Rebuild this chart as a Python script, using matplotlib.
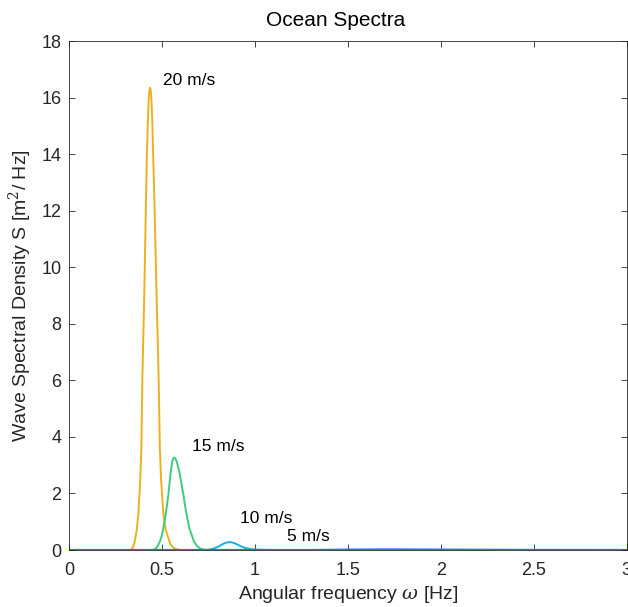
import matplotlib
matplotlib.use("Agg")
import matplotlib.pyplot as plt

plt.rcParams['font.family'] = ['Liberation Sans', 'DejaVu Sans']
plt.rcParams['mathtext.fontset'] = 'dejavuserif'

# 20 m/s
w20 = [0, 0.330, 0.336, 0.340, 0.352, 0.364, 0.373, 0.383, 0.389, 0.394, 0.405, 0.414, 0.418,
       0.423, 0.428, 0.432, 0.435, 0.438, 0.442, 0.447, 0.453, 0.459, 0.470, 0.482, 0.488, 0.495,
       0.507, 0.520, 0.543, 0.555, 0.566, 0.580, 0.600, 3.0]
s20 = [0, 0, 0.02, 0.06, 0.25, 0.71, 1.30, 2.48, 3.66, 6.0, 9.2, 12.4, 13.8,
       15.0, 15.9, 16.25, 16.35, 16.3, 16.05, 15.3, 13.8, 12.4, 9.2, 6.0, 3.66, 2.48,
       1.30, 0.71, 0.24, 0.12, 0.06, 0.02, 0, 0]

# 15 m/s
w15 = [0, 0.440, 0.455, 0.462, 0.475, 0.489, 0.498, 0.507, 0.522, 0.534, 0.547, 0.555,
       0.561, 0.566, 0.572, 0.579, 0.593, 0.615, 0.629, 0.647, 0.672, 0.688, 0.704, 0.720,
       0.740, 3.0]
s15 = [0, 0, 0.01, 0.03, 0.12, 0.30, 0.50, 0.77, 1.36, 1.95, 2.78, 3.13,
       3.24, 3.27, 3.23, 3.13, 2.78, 1.95, 1.36, 0.77, 0.30, 0.14, 0.06, 0.02,
       0, 0]

# 10 m/s
w10 = [0, 0.720, 0.745, 0.767, 0.785, 0.803, 0.830, 0.845, 0.862, 0.878, 0.892, 0.910,
       0.928, 0.950, 0.973, 1.000, 1.050, 1.100, 3.0]
s10 = [0, 0, 0.005, 0.03, 0.07, 0.12, 0.22, 0.26, 0.28, 0.265, 0.235, 0.18,
       0.12, 0.07, 0.035, 0.015, 0.005, 0, 0]

# 5 m/s
w5 = [0, 1.30, 1.50, 1.72, 2.00, 2.40, 3.0]
s5 = [0, 0, 0.012, 0.02, 0.012, 0.004, 0.001]

labels = ['20 m/s', '15 m/s', '10 m/s', '5 m/s']
xticks = [0, 0.5, 1, 1.5, 2, 2.5, 3]
xticklabels = ['0', '0.5', '1', '1.5', '2', '2.5', '3']
yticks = [0, 2, 4, 6, 8, 10, 12, 14, 16, 18]

fig = plt.figure(figsize=(6.28, 6.07), dpi=100)
ax = fig.add_axes([0.110, 0.0939, 0.888, 0.8385])

ax.plot(w20, s20, color='#EDB120', lw=1.4)
ax.plot(w15, s15, color='#3FCB7E', lw=1.4)
ax.plot(w10, s10, color='#1EADE2', lw=1.4)
ax.plot(w5, s5, color='#356CF2', lw=1.6)

ax.text(0.505, 16.6, labels[0], fontsize=12.5, va='center', ha='left')
ax.text(0.660, 3.65, labels[1], fontsize=12.5, va='center', ha='left')
ax.text(0.919, 1.13, labels[2], fontsize=12.5, va='center', ha='left')
ax.text(1.170, 0.47, labels[3], fontsize=12.5, va='center', ha='left')

ax.set_xlim(0, 3)
ax.set_ylim(0, 18)
ax.set_xticks(xticks)
ax.set_xticklabels(xticklabels)
ax.set_yticks(yticks)
ax.tick_params(direction='in', length=4, width=0.6, color='#262626', labelcolor='#262626',
               labelsize=13, top=True, right=True)
ax.tick_params(axis='x', pad=8.5)
ax.tick_params(axis='y', pad=5.5)
for sp in ax.spines.values():
    sp.set_color('#262626')
    sp.set_linewidth(0.6)

ax.set_title('Ocean Spectra', fontsize=15, pad=10.5, x=0.478)
ax.set_xlabel(r'Angular frequency $\omega$ [Hz]', fontsize=14, color='#262626', labelpad=4)
ax.set_ylabel(r'Wave Spectral Density S [m$^2$/ Hz]', fontsize=14, color='#262626', labelpad=5)

fig.savefig('out.png', dpi=100)
